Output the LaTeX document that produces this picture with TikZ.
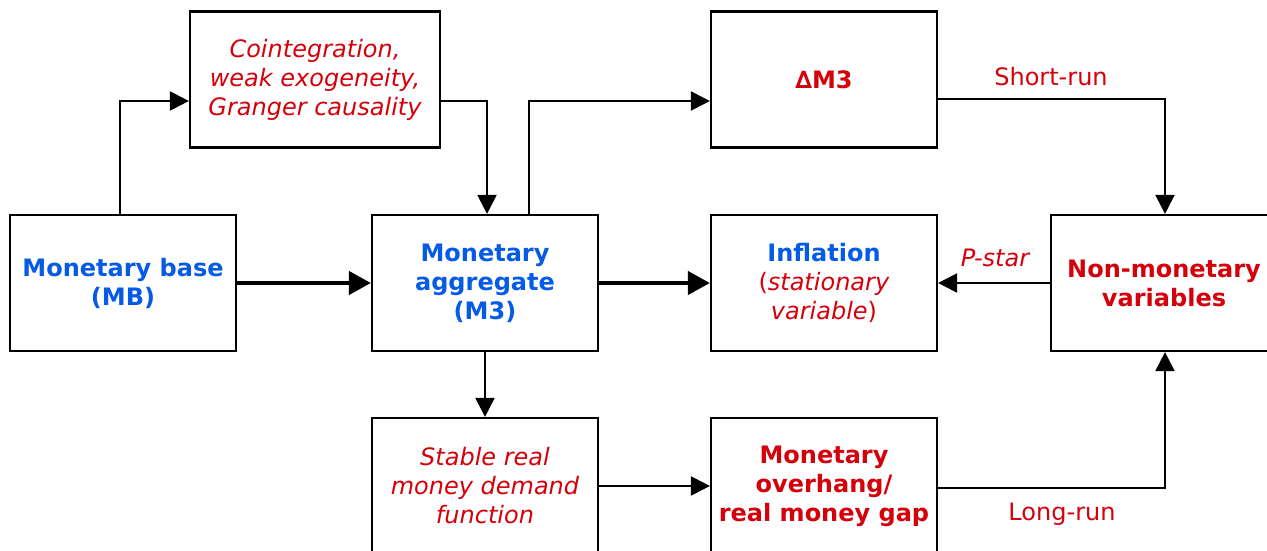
\documentclass[tikz,border=0pt]{standalone}
\usepackage{fontspec}
\setmainfont{DejaVu Sans}
\usetikzlibrary{arrows.meta,calc}
\definecolor{mblue}{RGB}{5,90,230}
\definecolor{mred}{RGB}{212,0,10}
\tikzset{
  box/.style={draw=black, line width=2.2pt, minimum width=226pt, minimum height=136pt,
    inner sep=0pt, align=center, font=\fontsize{24}{29}\selectfont},
  conn/.style={line width=2.2pt, -{Triangle[length=19pt,width=19pt]}},
  thick conn/.style={line width=4.2pt, -{Triangle[length=22pt,width=23pt]}},
  lbl/.style={text=mred, inner sep=0pt, font=\fontsize{24}{29}\selectfont},
}
\begin{document}
\begin{tikzpicture}[x=1pt,y=-1pt]
\useasboundingbox (0,0) rectangle (1267,551);
\clip (0,0) rectangle (1267,551);
\node[box] (mb) at (123,283) {\textcolor{mblue}{\bfseries Monetary base}\\\textcolor{mblue}{\bfseries (MB)}};
\node[box, minimum width=250pt] (coint) at (315,79.5) {\textcolor{mred}{\itshape Cointegration,}\\\textcolor{mred}{\itshape weak exogeneity,}\\\textcolor{mred}{\itshape Granger causality}};
\node[box] (m3) at (485,283) {\textcolor{mblue}{\bfseries Monetary}\\\textcolor{mblue}{\bfseries aggregate}\\\textcolor{mblue}{\bfseries (M3)}};
\node[box] (dm3) at (824,79.5) {\textcolor{mred}{\bfseries ∆M3}};
\node[box] (infl) at (824,283) {\textcolor{mblue}{\bfseries Inflation}\\\textcolor{mred}{(\textit{stationary}}\\\textcolor{mred}{\textit{variable})}};
\node[box] (nm) at (1164,283) {\textcolor{mred}{\bfseries Non-monetary}\\\textcolor{mred}{\bfseries variables}};
\node[box] (stable) at (485,486) {\textcolor{mred}{\itshape Stable real}\\\textcolor{mred}{\itshape money demand}\\\textcolor{mred}{\itshape function}};
\node[box] (gap) at (824,486) {\textcolor{mred}{\bfseries Monetary}\\\textcolor{mred}{\bfseries overhang/}\\\textcolor{mred}{\bfseries real money gap}};

\draw[conn] ([xshift=-3pt]mb.north) |- ([yshift=-21.5pt]coint.west);
\draw[conn] ([yshift=-21.5pt]coint.east) -| ([xshift=2pt]m3.north);
\draw[conn] ([xshift=44pt]m3.north) |- ([yshift=-21.5pt]dm3.west);
\draw[conn] ([yshift=-19.5pt]dm3.east) -| ([xshift=1pt]nm.north);
\draw[thick conn] (mb.east) -- (m3.west);
\draw[thick conn] (m3.east) -- (infl.west);
\draw[conn] (nm.west) -- (infl.east);
\draw[conn] (m3.south) -- (stable.north);
\draw[conn] (stable.east) -- (gap.west);
\draw[conn] ([yshift=-2pt]gap.east) -| ([xshift=1pt]nm.south);

\node[lbl] (sr) at (1051,77) {Short-run};
\node[lbl] (ps) at (995,258) {\itshape P-star};
\node[lbl] (lr) at (1062,514) {Long-run};
\end{tikzpicture}
\end{document}
